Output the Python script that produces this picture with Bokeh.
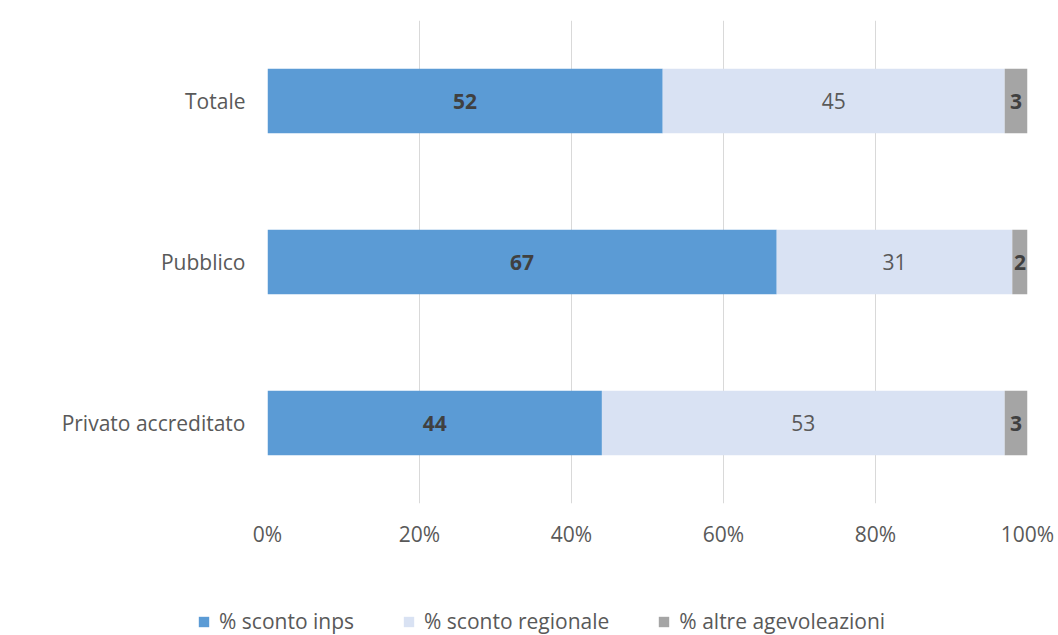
from bokeh.plotting import figure
from bokeh.models import ColumnDataSource, FixedTicker, Legend, LegendItem, Range1d
from bokeh.core.properties import value
from bokeh.embed import file_html
from bokeh.resources import INLINE

categories = ["Privato accreditato", "Pubblico", "Totale"]
inps = [44, 67, 52]
regionale = [53, 31, 45]
altre = [3, 2, 3]
series_names = ["% sconto inps", "% sconto regionale", "% altre agevoleazioni"]
colors = ["#5B9BD5", "#D9E2F3", "#A5A5A5"]
x_ticks = [0, 20, 40, 60, 80, 100]

FONT = "Open Sans"
FS = "21px"

p = figure(y_range=categories, x_range=(0, 100), width=1058, height=560,
           output_backend="svg", toolbar_location=None,
           min_border_left=267, min_border_right=31, min_border_top=20,
           min_border_bottom=57)
p.outline_line_color = None

src = ColumnDataSource(dict(cat=categories, inps=inps, regionale=regionale, altre=altre))
rs = p.hbar_stack(["inps", "regionale", "altre"], y="cat", height=0.4, color=colors,
                  line_color=None, source=src)

# value labels
l0 = [a / 2 for a in inps]
l1 = [a + b / 2 for a, b in zip(inps, regionale)]
l2 = [a + b + c / 2 for a, b, c in zip(inps, regionale, altre)]
p.text(x=l0, y=categories, text=[str(v) for v in inps], text_align="center",
       text_baseline="middle", text_font=value(FONT), text_font_size=FS,
       text_font_style="bold", text_color="#404040")
p.text(x=l1, y=categories, text=[str(v) for v in regionale], text_align="center",
       text_baseline="middle", text_font=value(FONT), text_font_size=FS,
       text_color="#595959")
p.text(x=l2, y=categories, text=[str(v) for v in altre], text_align="center",
       text_baseline="middle", text_font=value(FONT), text_font_size=FS,
       text_font_style="bold", text_color="#404040")

p.xaxis.ticker = FixedTicker(ticks=x_ticks)
p.xaxis.major_label_overrides = {t: f"{t}%" for t in x_ticks}
for ax in (p.xaxis[0], p.yaxis[0]):
    ax.axis_line_color = None
    ax.major_tick_line_color = None
    ax.minor_tick_line_color = None
    ax.major_label_text_font = FONT
    ax.major_label_text_font_size = FS
    ax.major_label_text_color = "#595959"
p.xaxis.major_label_standoff = 10
p.yaxis.major_label_standoff = 16

p.xgrid.grid_line_color = "#D9D9D9"
p.ygrid.grid_line_color = None

# legend strip below the chart (separate root so its frame spans the full width)
lg = figure(width=1058, height=75, output_backend="svg", toolbar_location=None,
            x_axis_type=None, y_axis_type=None, min_border=0,
            x_range=Range1d(0, 1), y_range=Range1d(0, 1))
lg.outline_line_color = None
lg.grid.visible = False
keys = [lg.hbar(y=[-5], left=[0], right=[0], height=0.1, color=c, line_color=None)
        for c in colors]
legend = Legend(items=[LegendItem(label=n, renderers=[r]) for n, r in zip(series_names, keys)],
                orientation="horizontal", location=(197, 0),
                label_text_font=FONT, label_text_font_size=FS,
                label_text_color="#595959", glyph_width=13, glyph_height=13,
                spacing=48, label_standoff=9, padding=0, margin=0,
                border_line_color=None, background_fill_alpha=0)
lg.add_layout(legend, "center")

open("out.html", "w").write(file_html([p, lg], INLINE))
